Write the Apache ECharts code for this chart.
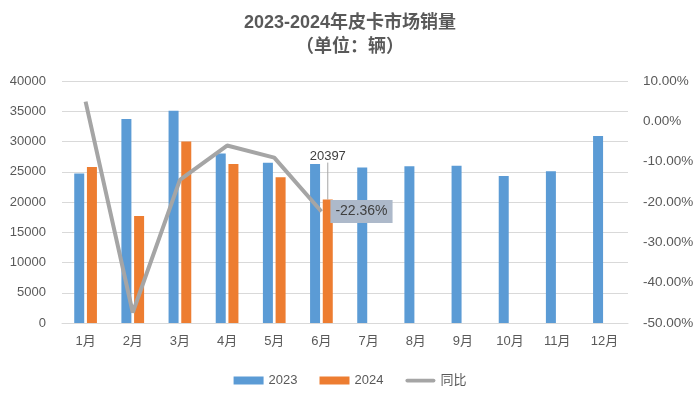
<!DOCTYPE html>
<html>
<head>
<meta charset="utf-8">
<style>html,body{margin:0;padding:0;background:#fff}#chart{width:700px;height:398px}</style>
<script src="https://cdn.jsdelivr.net/npm/echarts@6/dist/echarts.min.js"></script>
</head>
<body>
<div id="chart"></div>
<script>
var months = ['1月','2月','3月','4月','5月','6月','7月','8月','9月','10月','11月','12月'];
var sales2023 = [24700, 33700, 35100, 28000, 26500, 26300, 25700, 25900, 26000, 24300, 25100, 30900];
var sales2024 = [25800, 17700, 30000, 26300, 24100, 20397];
var yoy = [4.9, -47.4, -14.5, -6.0, -9.0, -22.36]; // 同比 %

var font = 'Liberation Sans, Noto Sans CJK SC';
var last = sales2024.length - 1;

// 最后一个月数据带标签
var data2024 = sales2024.map(function (v, i) {
    if (i === last) {
        return { value: v, label: { show: true, position: 'top', distance: 37, color: '#404040', fontSize: 13, fontFamily: font } };
    }
    return v;
});

var chart = echarts.init(document.getElementById('chart'));
var option = {
    animation: false,
    title: {
        text: '2023-2024年皮卡市场销量\n（单位：辆）',
        left: 'center', top: 6,
        textStyle: { fontSize: 18, fontWeight: 'bold', color: '#595959', fontFamily: font, lineHeight: 24 }
    },
    legend: {
        bottom: 6, left: 'center', itemGap: 22,
        itemWidth: 30, itemHeight: 8,
        symbolKeepAspect: true,
        textStyle: { color: '#595959', fontSize: 13, fontFamily: font },
        data: [
            { name: '2023', icon: 'rect' },
            { name: '2024', icon: 'rect' },
            { name: '同比', icon: 'path://M2,0 L30,0 A2,2 0 0 1 30,4 L2,4 A2,2 0 0 1 2,0 Z' }
        ]
    },
    grid: { left: 62, right: 72, top: 81, bottom: 75 },
    xAxis: {
        type: 'category', data: months,
        axisLine: { lineStyle: { color: '#D9D9D9' } },
        axisTick: { show: false },
        axisLabel: { color: '#595959', fontSize: 13, fontFamily: font, margin: 12 }
    },
    yAxis: [
        {
            type: 'value', min: 0, max: 40000, interval: 5000,
            axisLine: { show: false }, axisTick: { show: false },
            splitLine: { lineStyle: { color: '#D9D9D9' } },
            axisLabel: { color: '#595959', fontSize: 13, fontFamily: font, margin: 16,
                formatter: function (v) { return String(v); } }
        },
        {
            type: 'value', min: -50, max: 10, interval: 10,
            axisLine: { show: false }, axisTick: { show: false },
            splitLine: { show: false },
            axisLabel: { color: '#595959', fontSize: 13.5, fontFamily: font, margin: 15,
                formatter: function (v) { return v.toFixed(2) + '%'; } }
        }
    ],
    series: [
        {
            name: '2023', type: 'bar', data: sales2023,
            barWidth: 10, barGap: '27%',
            itemStyle: { color: '#5B9BD5' }
        },
        {
            name: '2024', type: 'bar', data: data2024,
            barWidth: 10,
            itemStyle: { color: '#ED7D31' },
            labelLine: { show: true, lineStyle: { color: '#A5A5A5', width: 1 } },
            labelLayout: function (p) {
                if (p.dataIndex === last) return { dy: 0 };
            }
        },
        {
            name: '同比', type: 'line', yAxisIndex: 1, data: yoy,
            symbol: 'none',
            lineStyle: { color: '#A5A5A5', width: 4 },
            itemStyle: { color: '#A5A5A5' },
            markPoint: {
                symbol: 'circle', symbolSize: 0,
                data: [{ coord: [last, yoy[last]], value: yoy[last] }],
                label: {
                    show: true, position: 'right', distance: 9,
                    formatter: function (p) { return p.value.toFixed(2) + '%'; },
                    backgroundColor: '#ADB9CA', color: '#404040', fontSize: 14, fontFamily: font,
                    padding: [5, 5, 4, 5]
                }
            }
        }
    ]
};
chart.setOption(option);
</script>
</body>
</html>
